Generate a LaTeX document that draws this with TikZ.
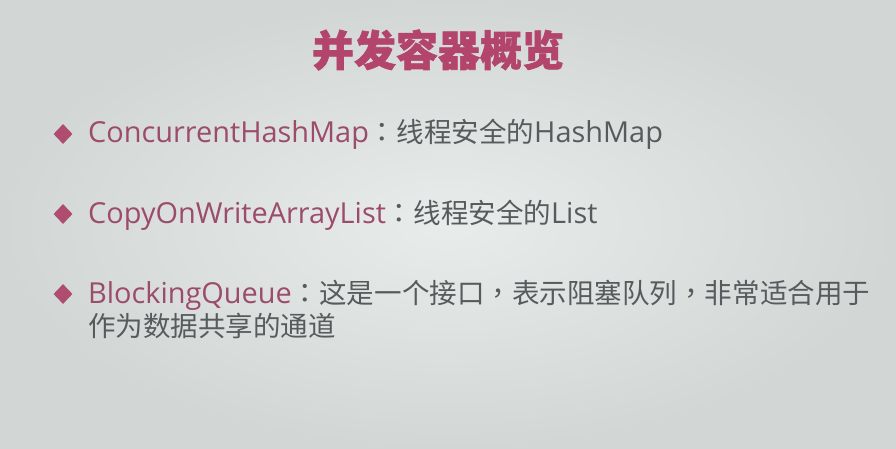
\documentclass[tikz,border=0pt]{standalone}
\usepackage{fontspec}
\setmainfont{Open Sans}[Scale=1.07]
\newfontfamily\cjk{Noto Sans CJK SC}[Scale=1.02]
\newfontfamily\cjktc{Noto Sans CJK TC}[Scale=1.02]
\newfontfamily\cjkheavy{Noto Sans CJK SC}[BoldFeatures={FakeBold=1.5}]
\usetikzlibrary{shapes.geometric}
\definecolor{bgin}{HTML}{E8ECEA}
\definecolor{bgout}{HTML}{D2D7D5}
\definecolor{titlecol}{HTML}{B3456C}
\definecolor{termcol}{HTML}{9C4B6A}
\definecolor{desccol}{HTML}{565C5E}
\definecolor{bulletcol}{HTML}{AE4D70}
\tikzset{
  bulletmark/.style={diamond, fill=bulletcol, inner sep=0pt, minimum width=19pt, minimum height=20pt},
  itemtext/.style={anchor=base west, inner sep=0pt, font=\fontsize{27}{32}\selectfont},
  titletext/.style={anchor=base, inner sep=0pt, text=titlecol, font=\cjkheavy\bfseries\fontsize{42}{48}\selectfont}
}
\newcommand{\term}[1]{\textcolor{termcol}{#1}}
\newcommand{\desc}[1]{\textcolor{desccol}{#1}}
\newcommand{\cm}{{\cjktc ，}}
\begin{document}
\begin{tikzpicture}[x=1pt,y=-1pt]
\useasboundingbox (0,0) rectangle (896,449);
\shade[inner color=bgin, outer color=bgout] (0,0) rectangle (896,449);
\node[titletext] (title) at (438,66) {并发容器概览};
\node[bulletmark] (b1) at (63,134) {};
\node[itemtext] (t1) at (88,143) {\term{ConcurrentHashMap}\desc{{\cjktc ：}{\cjk 线程安全的}HashMap}};
\node[bulletmark] (b2) at (63,214) {};
\node[itemtext] (t2) at (88,223) {\term{CopyOnWriteArrayList}\desc{{\cjktc ：}{\cjk 线程安全的}List}};
\node[bulletmark] (b3) at (63,294) {};
\node[itemtext] (t3) at (88,303) {\term{BlockingQueue}\desc{{\cjktc ：}{\cjk 这是一个接口}\cm{\cjk 表示阻塞队列}\cm{\cjk 非常适合用于}}};
\node[itemtext] (t4) at (88,336) {\desc{\cjk 作为数据共享的通道}};
\end{tikzpicture}
\end{document}
